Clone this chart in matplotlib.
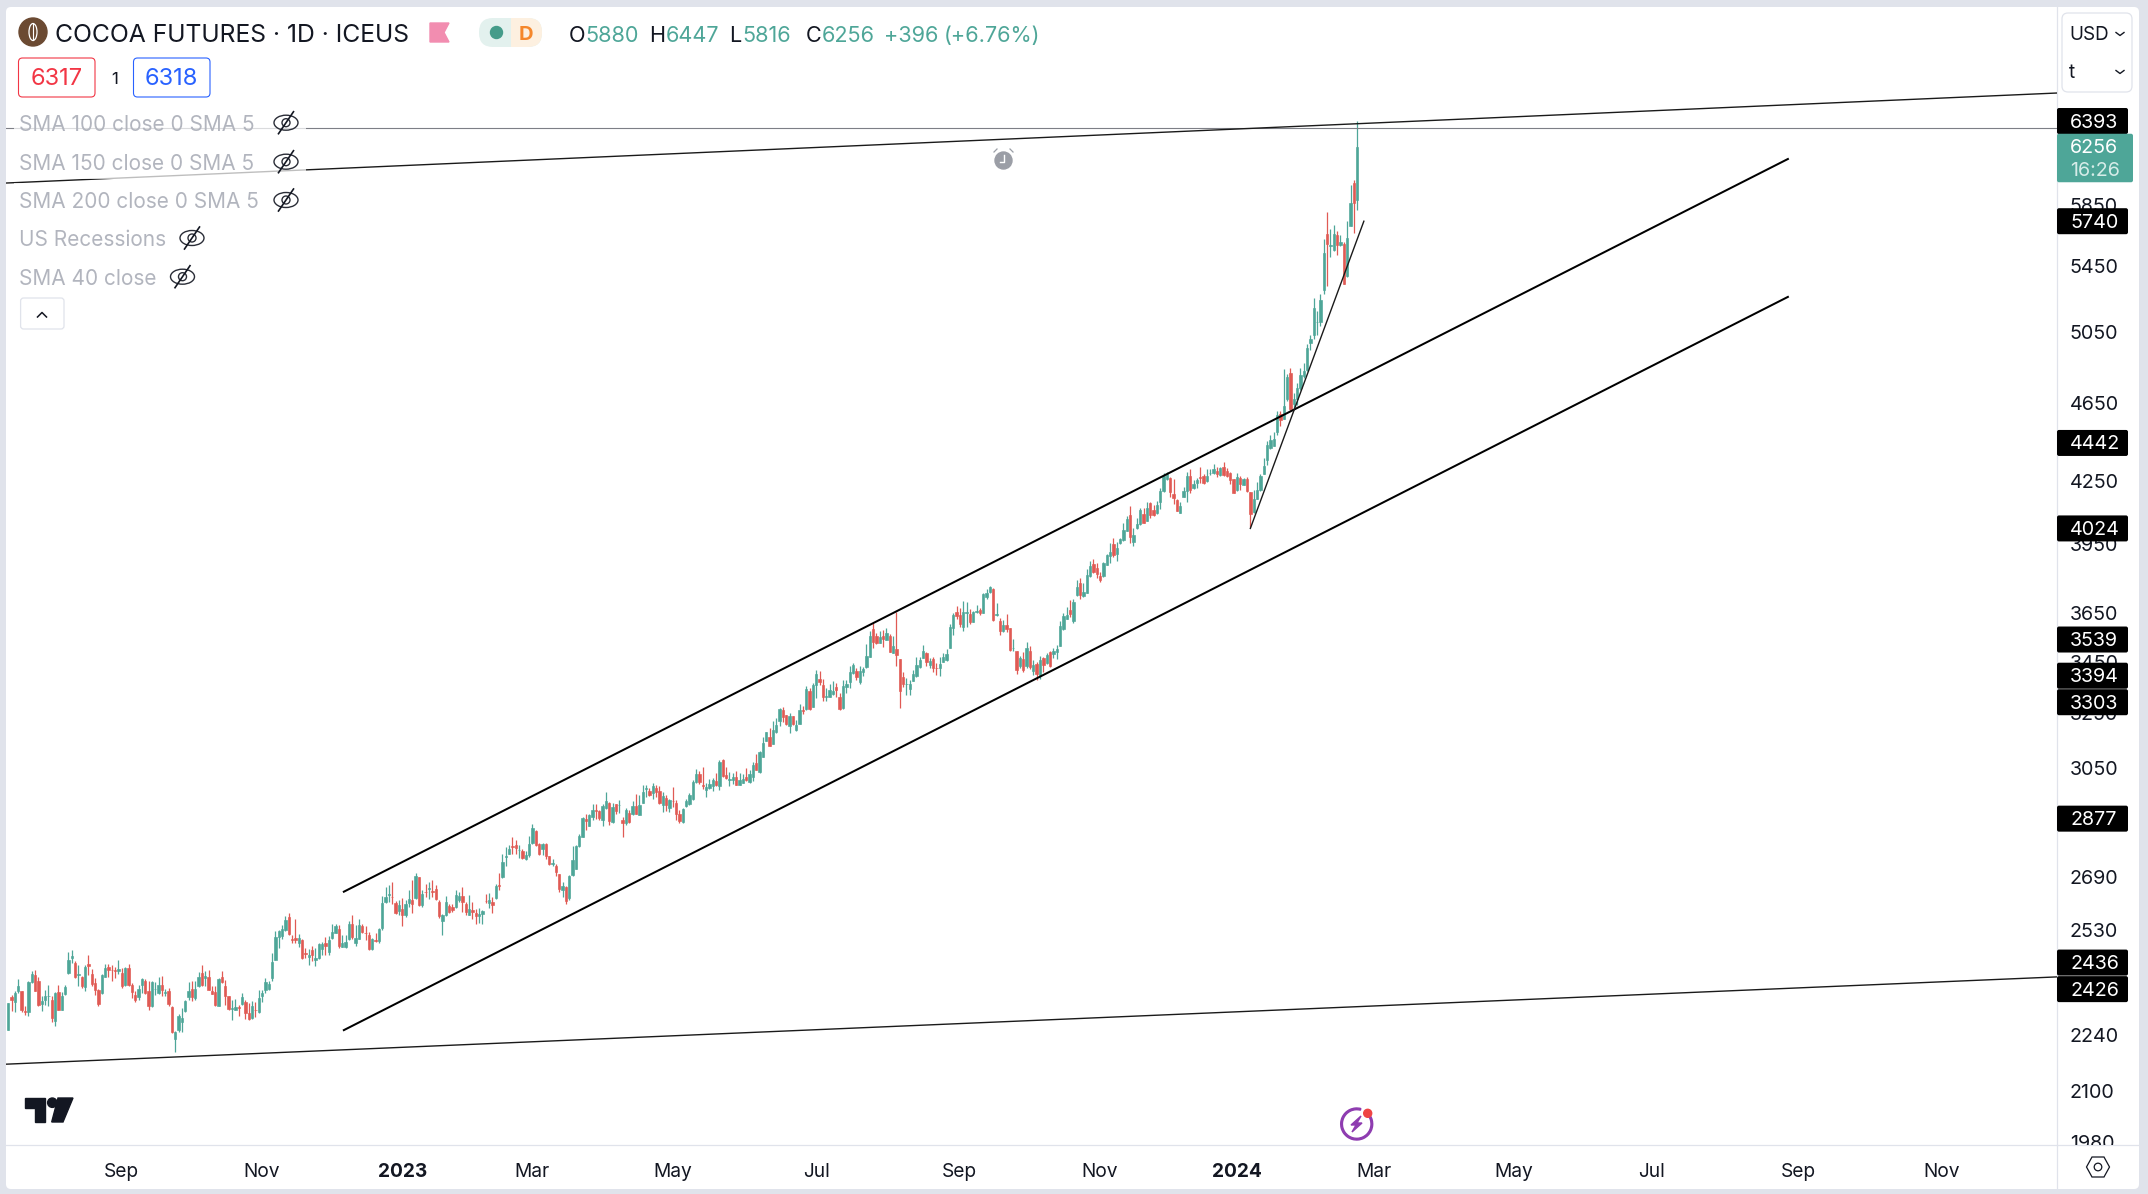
"""Cocoa futures daily candles with channel trend lines, in a trading terminal frame."""

import matplotlib
matplotlib.use("Agg")
import matplotlib.pyplot as plt
import numpy as np
from matplotlib.patches import Circle, Ellipse, FancyBboxPatch, Polygon, Rectangle, Wedge
from matplotlib.ticker import FixedFormatter, FixedLocator, NullLocator
from matplotlib.transforms import Bbox

plt.rcParams["font.family"] = ["Inter", "DejaVu Sans"]

W, H = 2148, 1194

opens = [
    2254,2340,2327,2356,2356,2303,2300,2382,2402,2385, 2321,2332,2343,2332,2276,2355,2307,2348,2406,2448,
    2436,2402,2396,2368,2433,2405,2379,2361,2352,2397, 2424,2415,2414,2411,2407,2374,2420,2374,2347,2341,
    2375,2385,2356,2316,2362,2353,2374,2351,2356,2315, 2229,2254,2273,2303,2341,2363,2338,2370,2407,2392,
    2397,2357,2354,2318,2395,2372,2343,2309,2307,2313, 2323,2328,2298,2285,2306,2300,2343,2359,2364,2392,
    2444,2509,2511,2530,2568,2502,2506,2493,2501,2464, 2451,2473,2442,2448,2475,2491,2465,2506,2522,2532,
    2480,2480,2503,2547,2491,2504,2541,2522,2516,2475, 2500,2498,2535,2613,2635,2629,2611,2587,2592,2573,
    2609,2619,2625,2688,2603,2644,2653,2645,2652,2612, 2556,2573,2600,2598,2598,2618,2630,2608,2573,2590,
    2581,2571,2576,2616,2609,2613,2625,2664,2688,2753, 2763,2786,2790,2774,2772,2745,2760,2796,2836,2794,
    2777,2794,2754,2731,2723,2698,2649,2659,2624,2695, 2714,2787,2817,2875,2853,2883,2906,2902,2873,2912,
    2931,2865,2926,2922,2873,2864,2897,2891,2920,2889, 2931,2979,2971,2963,2980,2971,2923,2945,2912,2938,
    2929,2894,2866,2920,2926,2942,3001,3030,2991,2974, 2980,2989,3005,2989,3079,3026,3010,3009,3018,2992,
    2999,3020,3003,3020,3069,3038,3091,3149,3161,3136, 3181,3221,3262,3242,3204,3240,3188,3210,3262,3266,
    3336,3275,3358,3381,3356,3313,3313,3322,3350,3312, 3269,3350,3370,3404,3412,3369,3409,3427,3470,3581,
    3554,3526,3554,3537,3554,3486,3499,3460,3388,3360, 3342,3374,3392,3429,3465,3483,3436,3460,3426,3426,
    3450,3456,3506,3588,3652,3642,3592,3651,3645,3613, 3653,3662,3651,3719,3739,3752,3642,3616,3574,3599,
    3586,3503,3492,3432,3460,3431,3492,3414,3440,3392, 3464,3443,3489,3480,3490,3514,3581,3625,3662,3616,
    3726,3779,3721,3736,3808,3862,3845,3808,3808,3859, 3898,3952,3907,3956,3970,4014,4087,3962,4025,4044,
    4092,4061,4145,4110,4095,4149,4202,4260,4267,4187, 4158,4098,4174,4202,4275,4217,4243,4269,4275,4253,
    4291,4288,4298,4278,4318,4302,4290,4259,4207,4265, 4233,4260,4197,4100,4163,4207,4285,4354,4416,4428,
    4501,4594,4568,4674,4815,4648,4674,4733,4797,4834, 4986,5033,5106,5106,5303,5657,5578,5554,5650,5582,
    5593,5385,5710,6001,5880,
]
highs = [
    2325,2347,2356,2391,2356,2316,2384,2413,2416,2396, 2345,2359,2374,2343,2354,2373,2354,2375,2465,2473,
    2440,2430,2399,2430,2458,2418,2393,2363,2405,2432, 2433,2430,2423,2442,2421,2424,2432,2379,2357,2375,
    2393,2391,2384,2384,2381,2397,2399,2363,2366,2318, 2250,2295,2312,2334,2381,2384,2385,2409,2428,2412,
    2416,2370,2370,2392,2411,2388,2345,2334,2336,2320, 2352,2334,2325,2330,2327,2361,2361,2393,2384,2463,
    2528,2530,2545,2571,2579,2516,2561,2518,2503,2477, 2474,2482,2477,2491,2496,2509,2511,2548,2548,2545,
    2516,2516,2557,2574,2545,2561,2548,2540,2525,2506, 2522,2534,2632,2657,2665,2675,2617,2619,2624,2619,
    2649,2680,2702,2688,2649,2669,2674,2679,2665,2618, 2578,2630,2608,2606,2649,2644,2657,2613,2633,2613,
    2593,2596,2590,2636,2640,2628,2669,2702,2761,2785, 2790,2816,2806,2790,2777,2770,2819,2859,2839,2798,
    2798,2798,2757,2747,2729,2700,2674,2661,2695,2787, 2790,2826,2882,2892,2894,2926,2926,2906,2926,2968,
    2933,2929,2926,2940,2882,2911,2906,2938,2960,2957, 2992,2992,2980,2997,2992,2986,2968,2957,2942,2984,
    2940,2906,2911,2942,2965,3009,3046,3040,3054,2997, 3011,3015,3032,3079,3083,3054,3035,3032,3040,3032,
    3028,3050,3042,3070,3101,3112,3161,3181,3194,3221, 3231,3269,3275,3245,3250,3241,3225,3284,3277,3354,
    3345,3367,3416,3412,3381,3345,3361,3372,3365,3326, 3377,3377,3432,3443,3423,3432,3427,3520,3573,3608,
    3565,3576,3578,3586,3561,3554,3655,3460,3407,3384, 3377,3416,3467,3467,3517,3487,3463,3470,3443,3467,
    3483,3499,3601,3648,3680,3669,3700,3695,3665,3659, 3682,3672,3733,3752,3766,3755,3692,3630,3620,3645,
    3586,3541,3492,3473,3487,3530,3513,3456,3450,3473, 3467,3486,3492,3504,3517,3617,3648,3674,3705,3710,
    3791,3798,3776,3838,3875,3885,3868,3828,3871,3907, 3958,3978,3962,3979,4048,4083,4129,4025,4072,4118,
    4121,4150,4148,4134,4153,4218,4291,4293,4270,4259, 4161,4147,4223,4293,4311,4256,4265,4318,4283,4310,
    4308,4335,4322,4322,4345,4313,4295,4259,4288,4275, 4268,4272,4199,4207,4248,4283,4363,4450,4484,4500,
    4607,4607,4839,4810,4846,4704,4761,4842,4871,4983, 5032,5253,5177,5278,5625,5801,5690,5717,5677,5650,
    5606,5744,5984,6022,6447,
]
lows = [
    2254,2303,2301,2352,2300,2294,2291,2379,2356,2318, 2303,2320,2318,2273,2265,2305,2305,2347,2405,2435,
    2392,2372,2366,2356,2400,2370,2347,2318,2350,2396, 2397,2384,2393,2405,2366,2370,2370,2339,2327,2334,
    2352,2348,2305,2314,2347,2348,2343,2343,2318,2246, 2198,2247,2247,2302,2332,2329,2332,2368,2372,2370,
    2359,2348,2318,2316,2379,2320,2305,2280,2305,2289, 2320,2282,2280,2283,2287,2298,2327,2352,2361,2384,
    2442,2477,2503,2528,2516,2491,2493,2480,2446,2449, 2430,2440,2426,2446,2458,2458,2458,2503,2520,2477,
    2479,2478,2499,2503,2482,2503,2520,2501,2473,2473, 2496,2491,2530,2609,2614,2607,2577,2574,2540,2569,
    2599,2579,2623,2600,2598,2628,2623,2628,2618,2566, 2515,2570,2580,2583,2596,2613,2583,2573,2573,2563,
    2546,2549,2546,2609,2596,2580,2623,2649,2685,2725, 2763,2761,2761,2750,2745,2742,2753,2794,2787,2760,
    2760,2745,2728,2723,2691,2644,2628,2606,2620,2692, 2713,2785,2815,2839,2852,2873,2877,2873,2853,2908,
    2856,2864,2892,2897,2816,2856,2862,2889,2894,2888, 2929,2951,2953,2942,2951,2926,2898,2903,2898,2917,
    2874,2862,2864,2915,2923,2940,2997,2995,2977,2951, 2977,2972,2988,2974,3020,3012,2989,2995,2991,2991,
    2997,3005,2999,3005,3043,3034,3089,3148,3129,3135, 3175,3202,3218,3207,3178,3206,3182,3209,3247,3262,
    3262,3272,3309,3358,3297,3298,3310,3319,3313,3263, 3266,3328,3347,3400,3377,3361,3393,3423,3467,3505,
    3521,3524,3510,3535,3489,3484,3432,3270,3351,3320, 3320,3373,3390,3423,3463,3432,3426,3409,3398,3392,
    3447,3454,3503,3559,3624,3592,3576,3592,3601,3610, 3648,3642,3648,3710,3736,3614,3637,3557,3570,3571,
    3493,3493,3400,3423,3407,3423,3420,3396,3377,3382, 3409,3440,3430,3463,3462,3511,3578,3622,3631,3609,
    3721,3708,3718,3733,3805,3820,3798,3784,3805,3856, 3868,3895,3877,3952,3967,4012,3958,3944,4022,4040,
    4048,4058,4075,4083,4092,4115,4199,4258,4172,4139, 4104,4095,4171,4148,4190,4214,4215,4243,4236,4248,
    4280,4283,4272,4275,4275,4272,4236,4191,4204,4207, 4230,4199,4029,4097,4161,4204,4283,4331,4413,4424,
    4484,4531,4566,4665,4616,4625,4639,4724,4788,4830, 4944,5009,5033,5086,5278,5323,5509,5548,5522,5576,
    5336,5381,5705,5665,5816,
]
closes = [
    2325,2332,2352,2372,2307,2301,2381,2405,2358,2320, 2329,2344,2344,2284,2353,2307,2345,2369,2442,2456,
    2396,2403,2372,2424,2426,2377,2359,2321,2402,2422, 2416,2414,2413,2418,2370,2421,2374,2354,2332,2363,
    2390,2353,2316,2383,2363,2374,2359,2355,2322,2249, 2248,2291,2285,2331,2357,2340,2364,2396,2374,2398,
    2361,2350,2320,2391,2381,2343,2308,2311,2314,2312, 2341,2298,2281,2318,2305,2339,2353,2382,2377,2439,
    2509,2527,2532,2559,2518,2501,2499,2506,2450,2461, 2458,2457,2449,2490,2489,2482,2501,2523,2542,2482,
    2493,2494,2547,2509,2506,2544,2524,2520,2475,2503, 2498,2532,2609,2629,2636,2627,2581,2604,2575,2607,
    2622,2607,2693,2603,2636,2642,2654,2643,2621,2570, 2573,2612,2583,2588,2633,2630,2612,2582,2593,2582,
    2572,2578,2585,2615,2619,2605,2661,2662,2735,2754, 2777,2785,2781,2775,2750,2760,2794,2845,2790,2763,
    2794,2757,2731,2734,2705,2653,2661,2616,2692,2742, 2787,2819,2879,2870,2889,2906,2903,2879,2920,2937,
    2870,2915,2903,2923,2864,2906,2866,2920,2894,2923, 2968,2980,2957,2989,2967,2929,2953,2922,2940,2935,
    2894,2868,2909,2937,2957,3002,3030,3001,2989,2983, 2995,3007,2990,3072,3023,3017,3012,3019,2992,3009,
    3011,3009,3030,3062,3045,3107,3140,3181,3129,3188, 3206,3265,3235,3210,3240,3210,3206,3262,3260,3342,
    3264,3358,3400,3369,3313,3314,3337,3333,3340,3267, 3352,3361,3407,3436,3390,3414,3421,3471,3554,3530,
    3524,3548,3543,3565,3490,3513,3478,3336,3361,3362, 3361,3400,3436,3456,3492,3450,3452,3426,3425,3440,
    3467,3480,3590,3641,3636,3603,3652,3652,3612,3655, 3656,3649,3730,3736,3761,3620,3644,3572,3599,3581,
    3496,3504,3418,3463,3418,3504,3430,3436,3400,3456, 3437,3476,3432,3492,3501,3594,3636,3641,3645,3696,
    3761,3726,3737,3813,3853,3825,3817,3791,3868,3904, 3916,3903,3935,3973,4017,4070,3986,3993,4045,4112,
    4051,4120,4086,4087,4136,4202,4275,4283,4199,4167, 4107,4129,4202,4275,4206,4236,4256,4268,4239,4275,
    4292,4310,4287,4313,4278,4277,4256,4194,4272,4236, 4260,4202,4091,4163,4207,4277,4324,4433,4455,4462,
    4589,4563,4637,4792,4619,4674,4733,4806,4825,4957, 5011,5191,5110,5241,5531,5593,5584,5657,5582,5603,
    5340,5630,5863,5859,6256,
]

price_ticks = [5850, 5450, 5050, 4650, 4250, 3950, 3650, 3450, 3250, 3050, 2870, 2690, 2530, 2240, 2100, 1980]
month_ticks = [34, 76, 118, 157, 199, 242, 285, 327, 368, 409, 451, 492, 536, 579]
month_labels = ["Sep", "Nov", "2023", "Mar", "May", "Jul", "Sep", "Nov", "2024", "Mar", "May", "Jul", "Sep", "Nov"]

# (bar index, price) end points of the drawn trend lines
channel_upper = ([100.5, 533], [2644, 6168])
channel_lower = ([100.5, 533], [2253, 5259])
long_upper = ([-0.7, 613.6], [5999, 6657])
long_lower = ([-0.7, 613.6], [2166, 2396])
steep_line = ([372, 406], [4024, 5740])
flat_level = 6393

level_labels = [6393, 5740, 4442, 4024, 3539, 3394, 3303, 2877, 2436, 2426]
# labels nudged in pixels where the terminal stacks them
level_nudge = {6393: -7, 3303: 3, 2426: 23}
last_close = 6256

legend_rows = ["SMA 100 close 0 SMA 5", "SMA 150 close 0 SMA 5", "SMA 200 close 0 SMA 5", "US Recessions", "SMA 40 close"]

GREEN = "#4ea698"
RED = "#e05a54"
INK = "#131722"
FRAME = "#e0e3eb"
MUTED = "#b2b5be"


def draw_chart(ax):
    idx = np.arange(len(closes))
    o, h, l, c = map(np.array, (opens, highs, lows, closes))
    colors = np.where(c >= o, GREEN, RED)
    ax.vlines(idx, l, h, colors=colors, linewidth=0.9, zorder=2)
    ax.bar(idx, np.abs(c - o), bottom=np.minimum(o, c), width=0.7, color=colors,
           edgecolor=colors, linewidth=0.45, zorder=3)

    ax.axhline(flat_level, color="#7d7f86", linewidth=0.8, zorder=4)
    for xs, ys in (long_upper, long_lower):
        ax.plot(xs, ys, color="#1a1a1a", linewidth=1.0, zorder=4)
    for xs, ys in (channel_upper, channel_lower):
        ax.plot(xs, ys, color="#000000", linewidth=1.45, zorder=4)
    ax.plot(*steep_line, color="#1a1a1a", linewidth=1.0, zorder=4)

    ax.set_yscale("log")
    ax.set_ylim(1972.8, 7353)
    ax.set_xlim(-0.69, 613.6)
    ax.yaxis.tick_right()
    ax.yaxis.set_major_locator(FixedLocator(price_ticks))
    ax.yaxis.set_major_formatter(FixedFormatter([str(p) for p in price_ticks]))
    ax.yaxis.set_minor_locator(NullLocator())
    ax.set_xticks(month_ticks)
    ax.set_xticklabels(month_labels)
    ax.tick_params(axis="y", length=0, pad=9.2, labelsize=14.2, labelcolor=INK)
    ax.tick_params(axis="x", length=0, pad=13, labelsize=13.8, labelcolor=INK)
    for lab in ax.get_xticklabels():
        if lab.get_text().startswith("20"):
            lab.set_fontweight("bold")
    # the lowest price tick is cut off by the time axis
    clip = Bbox([[2057, H - 1145], [2139, H]])
    for lab in ax.get_yticklabels():
        lab.set_clip_box(clip)
        lab.set_clip_on(True)
    for side in ax.spines.values():
        side.set_visible(False)
    ax.patch.set_visible(False)


def eye_off(ui, x, y):
    ui.add_patch(Ellipse((x, y), 24, 15, fill=False, edgecolor="#2a2d37", linewidth=1.0, zorder=6))
    ui.add_patch(Circle((x, y), 4, fill=False, edgecolor="#2a2d37", linewidth=1.0, zorder=6))
    ui.plot([x - 7.5, x + 7.5], [y + 11, y - 11], color="#131722", linewidth=1.2, zorder=6)


def draw_header(ui):
    ui.add_patch(Circle((33, 32), 14, color="#6b4a32", zorder=6))
    ui.add_patch(Ellipse((33, 32), 8, 17, fill=False, edgecolor="white", linewidth=0.9, zorder=7))
    ui.plot([33, 33], [24, 40], color="white", linewidth=0.8, zorder=7)
    ui.text(55, 36, "COCOA FUTURES · 1D · ICEUS", fontsize=17.8, color=INK, va="center", zorder=6)
    ui.add_patch(Polygon([(430, 23), (449, 23), (444, 32.5), (449, 42), (430, 42)], color="#f28db0", zorder=6))

    ui.add_patch(FancyBboxPatch((479, 18), 63, 29, boxstyle="round,pad=0,rounding_size=14",
                                facecolor="#e3f1ee", edgecolor="none", zorder=6))
    right_half = FancyBboxPatch((479, 18), 63, 29, boxstyle="round,pad=0,rounding_size=14",
                                facecolor="#fdf0e0", edgecolor="none", zorder=7)
    ui.add_patch(right_half)
    right_half.set_clip_path(Rectangle((510.5, 10), 40, 45, transform=ui.transData))
    ui.add_patch(Circle((496.5, 32.5), 6, color="#459c8a", zorder=8))
    ui.text(526, 35, "D", fontsize=14.5, fontweight="bold", color="#f5872b", ha="center", va="center", zorder=8)

    for x, txt, col in [(569, "O", INK), (585, "5880", GREEN), (649, "H", INK), (666, "6447", GREEN),
                        (729, "L", INK), (742, "5816", GREEN), (806, "C", INK), (822, "6256", GREEN),
                        (884, "+396", GREEN), (944, "(+6.76%)", GREEN)]:
        ui.text(x, 36, txt, fontsize=15.6, color=col, va="center", zorder=6)

    for x, txt, col in [(18.5, "6317", "#f23645"), (133.5, "6318", "#2962ff")]:
        ui.add_patch(FancyBboxPatch((x, 58), 76.5, 39, boxstyle="round,pad=0,rounding_size=4",
                                    facecolor="white", edgecolor=col, linewidth=0.8, zorder=6))
        ui.text(x + 38, 79, txt, fontsize=17, color=col, ha="center", va="center", zorder=7)
    ui.text(115, 79, "1", fontsize=12, color=INK, ha="center", va="center", zorder=6)


def draw_legend(ui):
    rows_y = [122.7, 161.7, 200, 238, 276.7]
    eyes_x = [286, 286, 286, 192, 182.5]
    for row, y, ex in zip(legend_rows, rows_y, eyes_x):
        ui.add_patch(Rectangle((14, y - 17), ex + 20 - 14, 34, facecolor="white", alpha=0.72,
                               edgecolor="none", zorder=5))
        ui.text(19.3, y + 2, row, fontsize=15, color=MUTED, va="center", zorder=6)
        eye_off(ui, ex, y)
    ui.add_patch(FancyBboxPatch((20.6, 298), 43.4, 31, boxstyle="round,pad=0,rounding_size=3",
                                facecolor="white", edgecolor=FRAME, linewidth=0.9, zorder=6))
    ui.plot([37.5, 42, 46.5], [317, 312.5, 317], color=INK, linewidth=1.1, zorder=7)


def draw_price_scale(ui, ax):
    # pixel row of a price, taken from the chart's own scale
    def row(price):
        return H - ax.transData.transform((0, price))[1]

    for level in level_labels:
        y = row(level) + level_nudge.get(level, 0)
        ui.add_patch(FancyBboxPatch((2057, y - 13), 71, 26, boxstyle="round,pad=0,rounding_size=2",
                                    facecolor="black", edgecolor="none", zorder=6))
        ui.text(2070, y + 1.5, str(level), fontsize=14.2, color="white", va="center", zorder=7)

    y = row(last_close)
    ui.add_patch(FancyBboxPatch((2057, y - 13), 76, 48.5, boxstyle="round,pad=0,rounding_size=2",
                                facecolor=GREEN, edgecolor="none", zorder=8))
    ui.text(2070, y + 1.5, str(last_close), fontsize=14.2, color="white", va="center", zorder=9)
    ui.text(2070, y + 24, "16:26", fontsize=14.2, color="#d6ece8", va="center", zorder=9)

    ui.add_patch(FancyBboxPatch((2062, 13), 70, 79, boxstyle="round,pad=0,rounding_size=6",
                                facecolor="white", edgecolor=FRAME, linewidth=0.9, zorder=6))
    ui.text(2069, 35.5, "USD", fontsize=13.6, color=INK, va="center", zorder=7)
    ui.text(2069, 73, "t", fontsize=13.6, color=INK, va="center", zorder=7)
    for y in (34, 72):
        ui.plot([2116, 2120, 2124], [y - 1.5, y + 1.5, y - 1.5], color=INK, linewidth=1.0, zorder=7)


def draw_icons(ui):
    # alarm clock
    ui.add_patch(Circle((1003.5, 160.5), 8.5, color="#9b9ea6", zorder=6))
    ui.plot([1003.5, 1003.5, 1000], [155, 162, 162], color="white", linewidth=1.0, zorder=7)
    ui.plot([994, 997], [152, 149], color="#9b9ea6", linewidth=0.9, zorder=6)
    ui.plot([1013, 1010], [152, 149], color="#9b9ea6", linewidth=0.9, zorder=6)

    # chart logo
    ui.add_patch(Polygon([(25, 1098), (45, 1098), (45, 1122), (34.5, 1122), (34.5, 1107.5), (25, 1107.5)],
                         color=INK, zorder=6))
    ui.add_patch(Circle((52.3, 1102.7), 4.7, color=INK, zorder=6))
    ui.add_patch(Polygon([(58, 1098), (73, 1098), (63, 1122), (51.7, 1122)], color=INK, zorder=6))

    # lightning badge
    ui.add_patch(Wedge((1356.7, 1124), 16, -35, 285, width=1.7, color="#8e3cb0", zorder=6))
    ui.add_patch(Polygon([(1361, 1116), (1351, 1125), (1356, 1125), (1352, 1132), (1362, 1123), (1357, 1123)],
                         color="#8e3cb0", zorder=6))
    ui.add_patch(Circle((1367.7, 1113.3), 4, color="#ef4444", zorder=7))

    # settings hexagon
    ui.add_patch(Polygon([(2086.5, 1167), (2092, 1157), (2104, 1157), (2109.5, 1167), (2104, 1177), (2092, 1177)],
                         fill=False, edgecolor=INK, linewidth=0.9, zorder=6))
    ui.add_patch(Circle((2098, 1167), 3.8, fill=False, edgecolor=INK, linewidth=0.9, zorder=6))


def main():
    fig = plt.figure(figsize=(W / 100, H / 100), dpi=100, facecolor=FRAME)

    bg = fig.add_axes([0, 0, 1, 1], zorder=0)
    bg.set_xlim(0, W)
    bg.set_ylim(H, 0)
    bg.axis("off")
    bg.add_patch(FancyBboxPatch((6, 7), 2133, 1182, boxstyle="round,pad=0,rounding_size=5",
                                facecolor="white", edgecolor="none"))
    bg.plot([2057, 2057], [7, 1189], color=FRAME, linewidth=0.9)
    bg.plot([6, 2139], [1145, 1145], color=FRAME, linewidth=0.9)

    ax = fig.add_axes([6 / W, (H - 1145) / H, (2057 - 6) / W, (1145 - 7) / H], zorder=1)
    draw_chart(ax)

    ui = fig.add_axes([0, 0, 1, 1], zorder=2)
    ui.set_xlim(0, W)
    ui.set_ylim(H, 0)
    ui.axis("off")
    draw_header(ui)
    draw_legend(ui)
    draw_price_scale(ui, ax)
    draw_icons(ui)

    fig.savefig("out.png", dpi=100, facecolor=fig.get_facecolor())
    plt.close(fig)


if __name__ == "__main__":
    main()
